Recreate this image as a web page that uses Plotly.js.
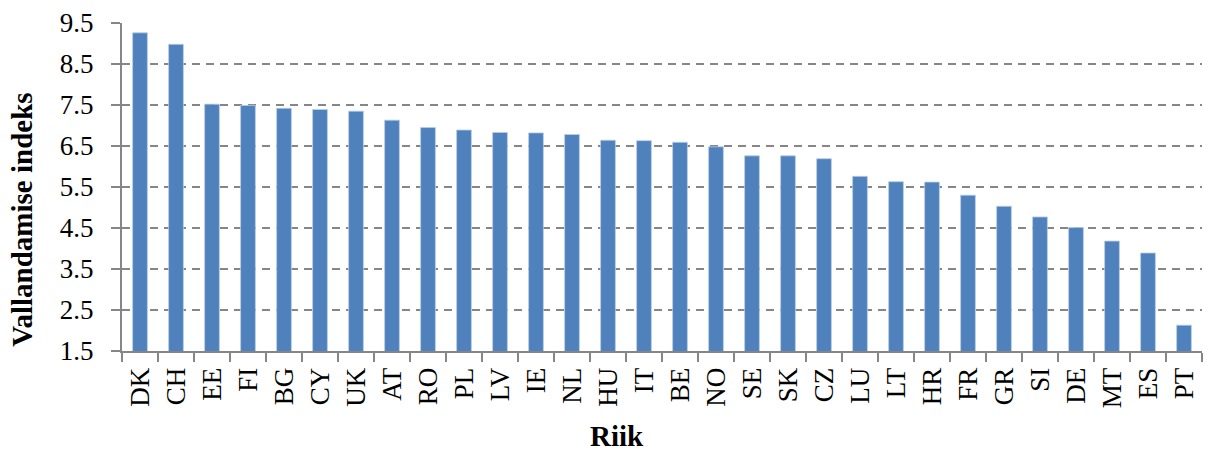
<!DOCTYPE html>
<html>
<head>
<meta charset="utf-8">
<script src="https://cdn.plot.ly/plotly-3.0.1.min.js"></script>
<style>
  html, body { margin: 0; padding: 0; background: #fff; }
  #chart { width: 1205px; height: 452px; }
</style>
</head>
<body>
<div id="chart"></div>
<script>
// Countries ranked by index value
const countries = ["DK","CH","EE","FI","BG","CY","UK","AT","RO","PL","LV","IE","NL","HU","IT",
                   "BE","NO","SE","SK","CZ","LU","LT","HR","FR","GR","SI","DE","MT","ES","PT"];
const indexValues = [9.26, 8.98, 7.52, 7.49, 7.42, 7.39, 7.35, 7.13, 6.95, 6.89, 6.83, 6.82, 6.78, 6.64, 6.63,
                     6.59, 6.48, 6.26, 6.26, 6.19, 5.76, 5.63, 5.62, 5.30, 5.03, 4.77, 4.51, 4.18, 3.89, 2.13];
const yTicks = [1.5, 2.5, 3.5, 4.5, 5.5, 6.5, 7.5, 8.5, 9.5];

const serif = '"Liberation Serif", "Times New Roman", Times, serif';
const axisGray = "#868686";

const trace = {
  type: "bar",
  x: countries,
  y: indexValues,
  width: 0.41,
  marker: { color: "#4F81BD", line: { color: "#b9cde6", width: 0.8 } },
  hoverinfo: "x+y"
};

const layout = {
  width: 1205,
  height: 452,
  margin: { l: 122, r: 3, t: 23, b: 101 },
  paper_bgcolor: "#fff",
  plot_bgcolor: "#fff",
  showlegend: false,
  font: { family: serif, color: "#000" },
  xaxis: {
    type: "category",
    tickangle: -90,
    tickfont: { family: serif, size: 27, color: "#000" },
    ticks: "outside",
    tickson: "boundaries",
    ticklen: 9,
    tickwidth: 2,
    tickcolor: axisGray,
    showline: true,
    linecolor: axisGray,
    linewidth: 2,
    showgrid: false,
    ticklabelstandoff: 4,
    range: [-0.5, 29.5]
  },
  yaxis: {
    range: [1.5, 9.5],
    tickvals: yTicks,
    ticktext: yTicks.map(v => v.toFixed(1)),
    tickfont: { family: serif, size: 27, color: "#000" },
    ticks: "outside",
    ticklen: 9,
    tickwidth: 2,
    tickcolor: axisGray,
    showline: true,
    linecolor: axisGray,
    linewidth: 2,
    showgrid: true,
    gridcolor: axisGray,
    gridwidth: 2,
    griddash: "8px,6px",
    zeroline: false,
    ticklabelstandoff: 12
  },
  annotations: [
    {
      text: "<b>Vallandamise indeks</b>",
      xref: "paper", yref: "paper",
      x: -0.0926, y: 0.40,
      xanchor: "center", yanchor: "middle",
      textangle: -90,
      showarrow: false,
      font: { family: serif, size: 29, color: "#000" }
    },
    {
      text: "<b>Riik</b>",
      xref: "paper", yref: "paper",
      x: 0.458, y: -0.26,
      xanchor: "center", yanchor: "middle",
      showarrow: false,
      font: { family: serif, size: 29, color: "#000" }
    }
  ]
};

Plotly.newPlot("chart", [trace], layout, { displayModeBar: false, staticPlot: true });
</script>
</body>
</html>
